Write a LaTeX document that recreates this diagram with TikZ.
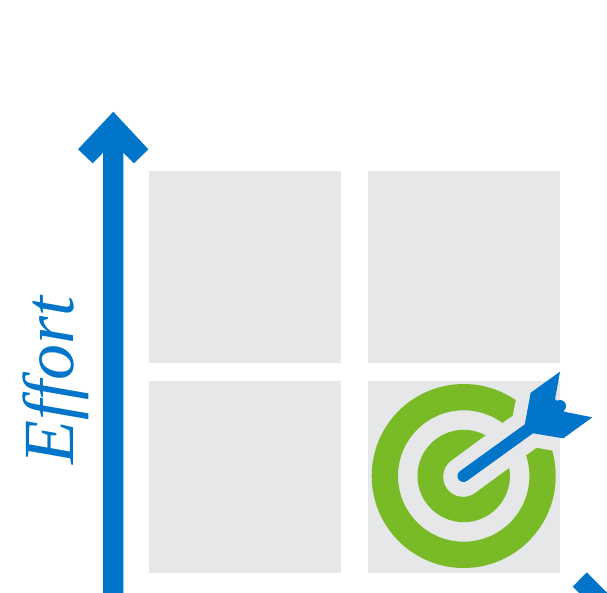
\documentclass[tikz,border=0pt]{standalone}
\usepackage{fontspec}
\setmainfont{Liberation Serif}
\definecolor{cellgray}{HTML}{E6E7E8}
\definecolor{axisblue}{HTML}{0075C9}
\definecolor{targetgreen}{HTML}{78BB26}
\tikzset{
  cell/.style={fill=cellgray,draw=none},
  axis/.style={fill=axisblue,draw=none},
  ring/.style={fill=targetgreen,draw=none,even odd rule},
}
\begin{document}
\begin{tikzpicture}[x=1pt,y=-1pt]
\useasboundingbox (0,0) rectangle (607,593);
% grid
\fill[cell] (149,171) rectangle (341,363);
\fill[cell] (368,171) rectangle (560,363);
\fill[cell] (149,381) rectangle (341,573);
\fill[cell] (368,381) rectangle (560,573);
% vertical axis
\fill[axis] (103,593) -- (103,152.7) -- (92.7,163.3) -- (78,149.3) -- (113.3,111.7)
  -- (148.3,149.3) -- (134,163.3) -- (123.3,152.7) -- (123.3,593) -- cycle;
% corner of the horizontal axis head
\fill[axis] (586.7,572.3) -- (572.7,586.7) -- (579,593) -- (607,593) -- (607,592.5) -- cycle;
% label
\node[anchor=base west,rotate=90,text=axisblue,inner sep=0pt,font=\fontsize{72}{72}\selectfont\itshape] (effort) at (73,465) {Effort};
% target
\fill[ring] (463.7,476) circle (92) (463.7,476) circle (65.7);
\fill[targetgreen] (463.7,476) circle (46.2);
% gap around the dart
\draw[cellgray,line width=40pt,line cap=round] (463.2,476.8) -- (520,435);
\fill[cellgray] (502.7,423.3) -- (512.7,416) -- (515.7,400.7) -- (533,381) -- (560,381)
  -- (560,426.7) -- (552.7,450.7) -- (536.7,447.7) -- (526.7,454) -- cycle;
% dart
\draw[axisblue,line width=12pt,line cap=round] (463.5,476) -- (530,428);
\fill[axis] (560,371.7) -- (555,399.3) -- (564,406) -- (564,411.7) -- (592.3,417.3) -- (563.3,438.3)
  -- (533.3,433.3) -- (525,423.3) -- (530.7,392.7) -- cycle;
\fill[axis] (560,406) circle (6);
\end{tikzpicture}
\end{document}
